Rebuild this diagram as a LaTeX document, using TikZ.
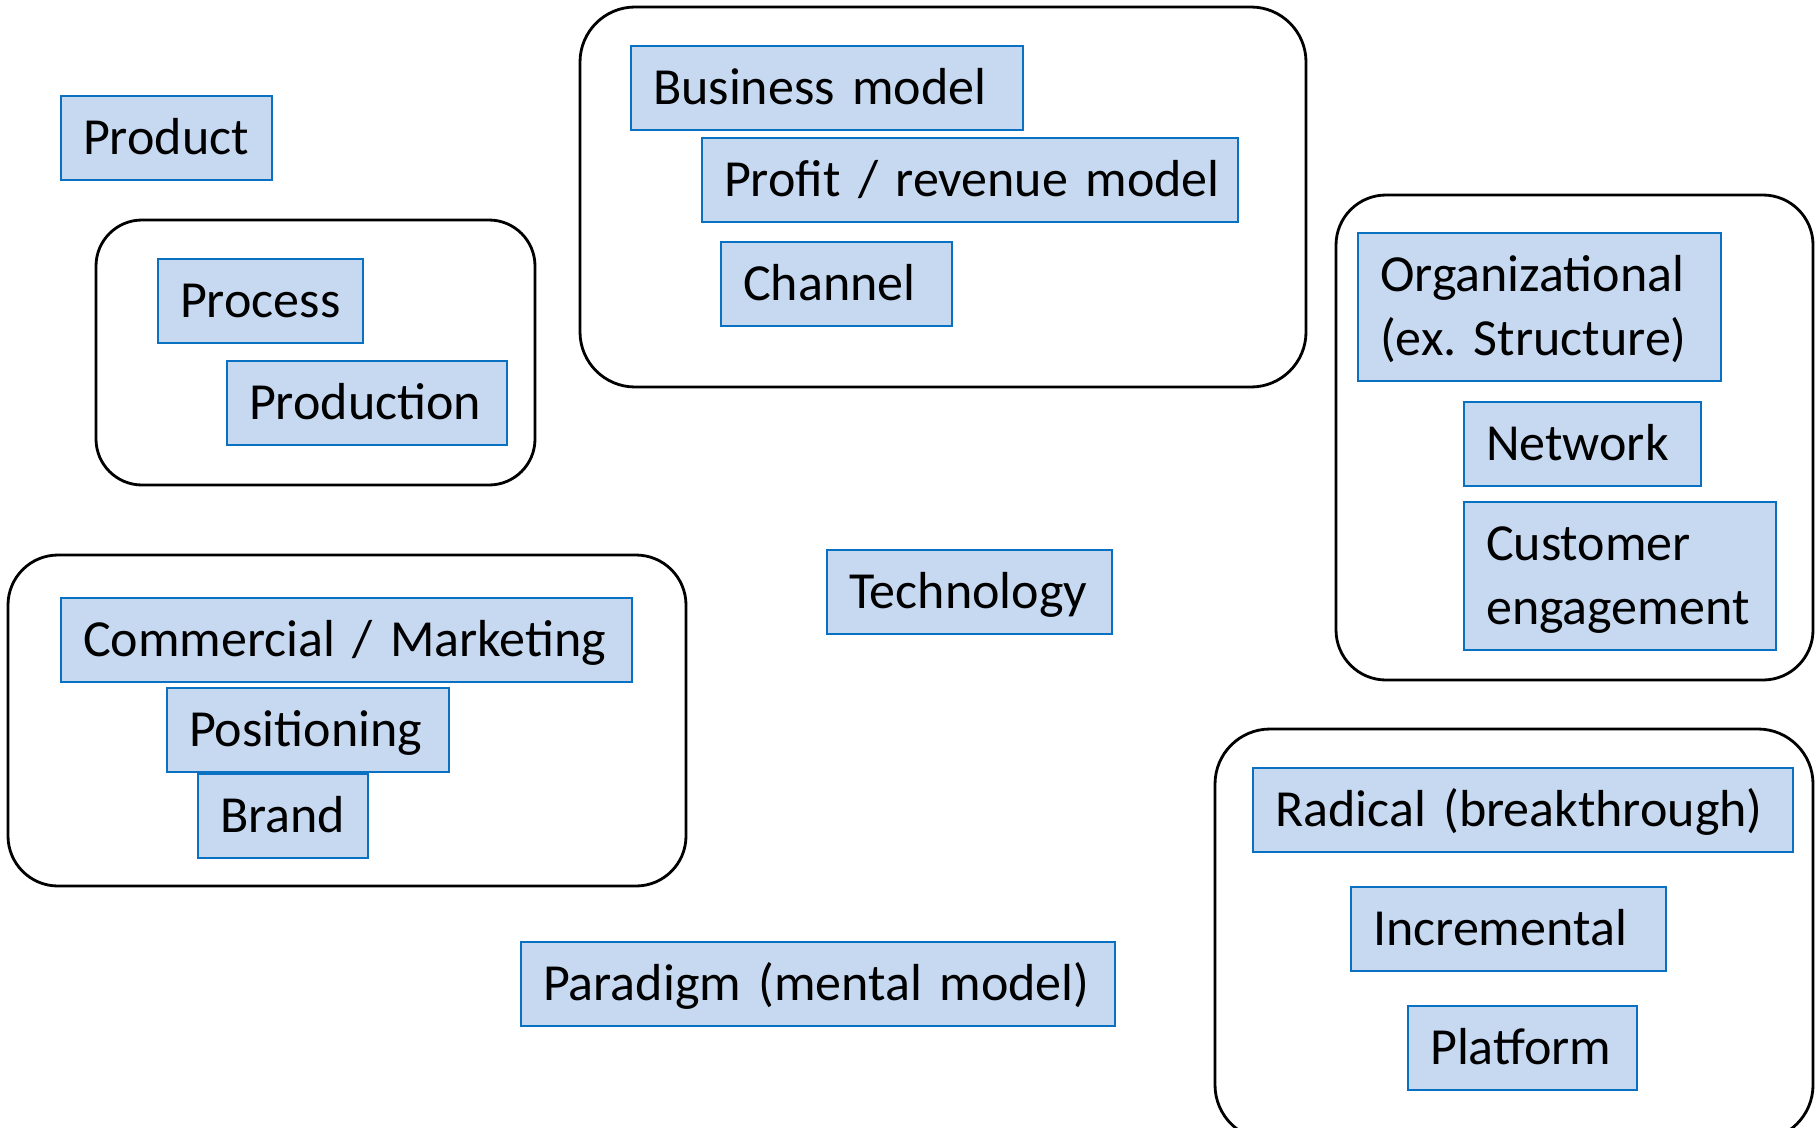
\documentclass[tikz,border=0pt]{standalone}
\usepackage{fontspec}
\setmainfont{Carlito}
\usepackage{tikz}
\frenchspacing

\definecolor{boxfill}{HTML}{C6D9F0}
\definecolor{boxline}{HTML}{0A70C2}

\begin{document}
\begin{tikzpicture}[
  x=0.01cm, y=-0.01cm,
  font=\fontsize{14.8}{18.2}\selectfont,
  box/.style={draw=boxline,line width=0.6pt,fill=boxfill,anchor=north west,
    align=left,inner xsep=0.22cm,inner ysep=2pt,text width=#1,
    minimum height=0.84cm,text height=12pt,text depth=2.4pt},
  twoline/.style={minimum height=1.48cm,text depth=20.9pt},
  grp/.style={draw,line width=0.8pt,rounded corners=#1}
]
\useasboundingbox (0,0) rectangle (1819,1127);

% the five groupings
\draw[grp=0.46cm] (96,220) rectangle (535,485);
\draw[grp=0.55cm] (580,7) rectangle (1306,387);
\draw[grp=0.5cm] (1336,195) rectangle (1813,680);
\draw[grp=0.5cm] (8,555) rectangle (686,886);
\draw[grp=0.55cm] (1215,729) rectangle (1813,1140);

% loose items
\node[box=1.67cm] (product) at (60,95) {Product};
\node[box=2.41cm] (tech) at (826,549) {Technology};
\node[box=5.50cm] (paradigm) at (520,941) {Paradigm (mental model)};

% process group
\node[box=1.61cm] (process) at (157,258) {Process};
\node[box=2.36cm] (production) at (226,360) {Production};

% business model group
\node[box=3.48cm] (bizmodel) at (630,45) {Business model};
\node[box=4.92cm] (profit) at (701,137) {\mbox{Profit / revenue model}};
\node[box=1.87cm] (channel) at (720,241) {Channel};

% organization group
\node[box=3.19cm,twoline] (org) at (1357,232) {Organizational\\(ex. Structure)};
\node[box=1.93cm] (network) at (1463,401) {Network};
\node[box=2.68cm,twoline] (customer) at (1463,501) {Customer\\engagement};

% marketing group
\node[box=5.27cm] (marketing) at (60,597) {\mbox{Commercial / Marketing}};
\node[box=2.38cm] (positioning) at (166,687) {Positioning};
\node[box=1.26cm] (brand) at (197,773) {Brand};

% degree of novelty
\node[box=4.96cm] (radical) at (1252,767) {\mbox{Radical (breakthrough)}};
\node[box=2.71cm] (incremental) at (1350,886) {Incremental};
\node[box=1.85cm] (platform) at (1407,1005) {Platform};
\end{tikzpicture}
\end{document}
